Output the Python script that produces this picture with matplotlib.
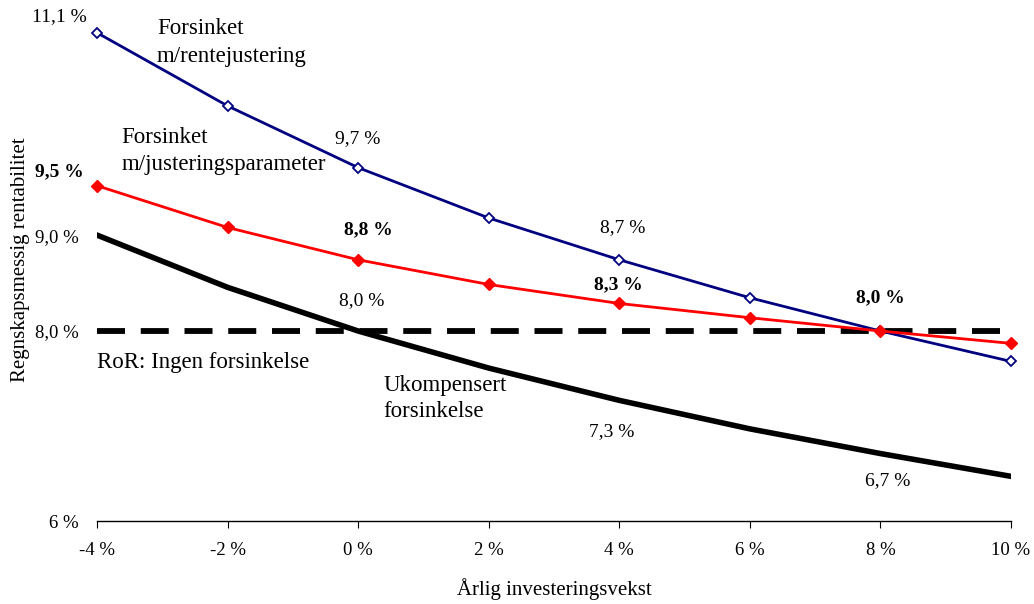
import matplotlib.pyplot as plt

# data (percent)
vekst = [-4, -2, 0, 2, 4, 6, 8, 10]
rentejust = [11.14, 10.37, 9.72, 9.19, 8.75, 8.35, 8.00, 7.68]
justparam = [9.53, 9.09, 8.75, 8.49, 8.29, 8.14, 8.00, 7.87]
ukompensert = [9.01, 8.46, 8.00, 7.61, 7.27, 6.97, 6.71, 6.47]
ror = 8.0

xtick_labels = ["-4 %", "-2 %", "0 %", "2 %", "4 %", "6 %", "8 %", "10 %"]
ytick_vals = [6, 8, 9]
ytick_labels = ["6 %", "8,0 %", "9,0 %"]

plt.rcParams['font.family'] = ['Liberation Serif', 'DejaVu Serif']

fig = plt.figure(figsize=(10.34, 6.04), dpi=100)
ax = fig.add_axes([0.0938, 0.1374, 0.884, 0.865])

ax.plot([vekst[0], vekst[-1]], [ror, ror], color="black", lw=4.2,
        dashes=(4.8, 2.7), solid_capstyle="butt", dash_capstyle="butt")
ax.plot(vekst, ukompensert, color="black", lw=4, solid_joinstyle="round")
ax.plot(vekst, rentejust, color="#000080", lw=2, marker="D", ms=5.5,
        mfc="white", mec="#000080", mew=1.3, clip_on=False)
ax.plot(vekst, justparam, color="#ff0000", lw=2, marker="D", ms=6,
        mfc="#ff0000", mec="#ff0000", clip_on=False)

ax.set_xlim(-4, 10)
ax.set_ylim(6, 11.5)
ax.set_xticks(vekst)
ax.set_xticklabels(xtick_labels, fontsize=13.5)
ax.set_yticks(ytick_vals)
ax.set_yticklabels(ytick_labels, fontsize=13.5)
ax.tick_params(axis="y", length=0, pad=13)
ax.tick_params(axis="x", direction="out", length=5, pad=10)
for s in ["top", "right", "left"]:
    ax.spines[s].set_visible(False)
ax.spines["bottom"].set_linewidth(1)

ax.set_xlabel("Årlig investeringsvekst", fontsize=15, labelpad=14)
ax.set_ylabel("Regnskapsmessig rentabilitet", fontsize=15, labelpad=4)

fs = 14
# data labels
ax.text(-4.57, 11.31, "11,1 %", fontsize=fs, ha="center", va="center")
ax.text(-4.58, 9.68, "9,5 %", fontsize=fs, ha="center", va="center", fontweight="bold")
ax.text(0.0, 10.03, "9,7 %", fontsize=fs, ha="center", va="center")
ax.text(0.15, 9.07, "8,8 %", fontsize=fs, ha="center", va="center", fontweight="bold")
ax.text(0.06, 8.32, "8,0 %", fontsize=fs, ha="center", va="center")
ax.text(4.05, 9.09, "8,7 %", fontsize=fs, ha="center", va="center")
ax.text(3.99, 8.49, "8,3 %", fontsize=fs, ha="center", va="center", fontweight="bold")
ax.text(3.89, 6.94, "7,3 %", fontsize=fs, ha="center", va="center")
ax.text(8.0, 8.35, "8,0 %", fontsize=fs, ha="center", va="center", fontweight="bold")
ax.text(8.11, 6.43, "6,7 %", fontsize=fs, ha="center", va="center")

# series names
fn = 16.5
ax.text(-3.08, 11.29, "Forsinket\nm/rentejustering", fontsize=fn, ha="left", va="top", linespacing=1.4)
ax.text(-3.63, 10.15, "Forsinket\nm/justeringsparameter", fontsize=fn, ha="left", va="top", linespacing=1.4)
ax.text(-4.0, 7.67, "RoR: Ingen forsinkelse", fontsize=fn, ha="left", va="center")
ax.text(0.39, 7.54, "Ukompensert\nforsinkelse", fontsize=fn, ha="left", va="top", linespacing=1.35)

fig.savefig("out.png", dpi=100)
